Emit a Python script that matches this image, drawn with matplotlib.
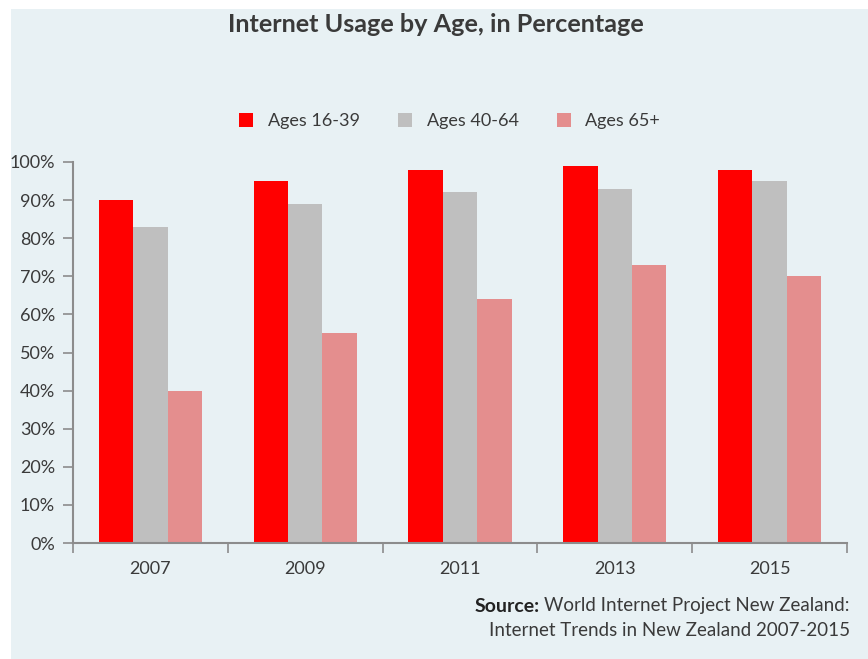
import numpy as np
import matplotlib
matplotlib.use('Agg')
import matplotlib.pyplot as plt
from matplotlib.patches import Rectangle, Patch

years = ['2007', '2009', '2011', '2013', '2015']
ages_16_39 = [90, 95, 98, 99, 98]
ages_40_64 = [83, 89, 92, 93, 95]
ages_65_plus = [40, 55, 64, 73, 70]
series_names = ['Ages 16-39', 'Ages 40-64', 'Ages 65+']
colors = ['#ff0000', '#bfbfbf', '#e48e8e']

plt.rcParams['font.family'] = ['Lato', 'DejaVu Sans']
bg = '#e8f1f4'
axis_col = '#8c8c8c'
text_col = '#3a3a3a'

fig = plt.figure(figsize=(8.68, 6.59), dpi=100)
fig.patch.set_facecolor('white')
fig.add_artist(Rectangle((11 / 868, 0), 1, 1 - 9 / 659, transform=fig.transFigure,
                         facecolor=bg, edgecolor='none', zorder=-10))

ax = fig.add_axes([73 / 868, 116 / 659, 774 / 868, 381 / 659])
ax.set_facecolor(bg)

x = np.arange(len(years))
w = 0.222
for i, vals in enumerate([ages_16_39, ages_40_64, ages_65_plus]):
    ax.bar(x + (i - 1) * w, vals, width=w, color=colors[i], label=series_names[i])

ax.set_xlim(-0.5, len(years) - 0.5)
ax.set_ylim(0, 100)
ax.set_yticks(range(0, 101, 10))
ax.set_yticklabels([f'{v}%' for v in range(0, 101, 10)])
ax.set_xticks(np.arange(len(years) + 1) - 0.5)
ax.set_xticklabels([])
ax.set_xticks(x, minor=True)
ax.set_xticklabels(years, minor=True)
ax.tick_params(axis='x', which='major', length=7, width=1.2, color=axis_col, direction='out')
ax.tick_params(axis='x', which='minor', length=0, pad=13, labelsize=13, labelcolor=text_col)
ax.tick_params(axis='y', length=7, width=1.2, color=axis_col, direction='out',
               labelsize=13, labelcolor=text_col, pad=6)
for s in ['top', 'right']:
    ax.spines[s].set_visible(False)
for s in ['left', 'bottom']:
    ax.spines[s].set_color(axis_col)
    ax.spines[s].set_linewidth(1.5)

fig.text(0.502, 1 - 25 / 659, 'Internet Usage by Age, in Percentage', ha='center', va='center',
         fontsize=18.2, fontweight='bold', color=text_col)

handles = [Patch(facecolor=c, edgecolor='none') for c in colors]
fig.legend(handles, series_names, loc='center', bbox_to_anchor=(0.518, 1 - 121 / 659),
           ncol=3, frameon=False, fontsize=13, handlelength=0.8, handleheight=0.8,
           handletextpad=0.8, columnspacing=2.1, labelcolor=text_col)

# white border at the left edge clips the 100% label like in the original
fig.add_artist(Rectangle((0, 0), 11 / 868, 1, transform=fig.transFigure,
                         facecolor='white', edgecolor='none', zorder=20))

xr = 850 / 868
t1 = fig.text(xr, 1 - 606 / 659, 'World Internet Project New Zealand:', ha='right', va='center',
              fontsize=13.5, color=text_col)
fig.text(xr, 1 - 631 / 659, 'Internet Trends in New Zealand 2007-2015', ha='right', va='center',
         fontsize=13.5, color=text_col)
fig.canvas.draw()
bb = t1.get_window_extent().transformed(fig.transFigure.inverted())
fig.text(bb.x0 - 0.005, 1 - 606 / 659, 'Source:', ha='right', va='center',
         fontsize=14, fontweight='bold', color='#222222')

fig.savefig('out.png', dpi=100, facecolor=fig.get_facecolor())
